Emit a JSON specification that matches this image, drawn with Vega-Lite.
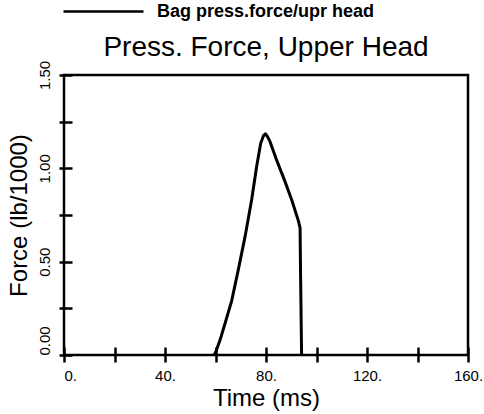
{
  "$schema": "https://vega.github.io/schema/vega-lite/v6.json",
  "width": 404,
  "height": 280,
  "autosize": "none",
  "padding": {"left": 64, "top": 75, "right": 16, "bottom": 59},
  "background": "white",
  "title": {
    "text": "Press. Force, Upper Head",
    "font": "Liberation Sans",
    "fontSize": 28,
    "fontWeight": "normal",
    "color": "black",
    "anchor": "middle",
    "frame": "group",
    "offset": -92
  },
  "config": {
    "view": {"stroke": "black", "strokeWidth": 2.5},
    "axis": {
      "grid": false,
      "domain": false,
      "tickColor": "black",
      "tickWidth": 2.5,
      "labelColor": "black",
      "labelFont": "Liberation Sans",
      "labelFontSize": 15,
      "titleColor": "black",
      "titleFont": "Liberation Sans",
      "titleFontSize": 24,
      "titleFontWeight": "normal",
      "labelOverlap": false,
      "labelBound": false
    }
  },
  "data": {
    "values": [
      {"t": 59.5, "f": 0.0, "s": "Bag press.force/upr head"},
      {"t": 60.2, "f": 0.02, "s": "Bag press.force/upr head"},
      {"t": 61.8, "f": 0.08, "s": "Bag press.force/upr head"},
      {"t": 63.8, "f": 0.17, "s": "Bag press.force/upr head"},
      {"t": 66.4, "f": 0.29, "s": "Bag press.force/upr head"},
      {"t": 69.0, "f": 0.455, "s": "Bag press.force/upr head"},
      {"t": 71.7, "f": 0.634, "s": "Bag press.force/upr head"},
      {"t": 74.3, "f": 0.83, "s": "Bag press.force/upr head"},
      {"t": 76.3, "f": 1.01, "s": "Bag press.force/upr head"},
      {"t": 77.9, "f": 1.134, "s": "Bag press.force/upr head"},
      {"t": 79.0, "f": 1.175, "s": "Bag press.force/upr head"},
      {"t": 79.8, "f": 1.185, "s": "Bag press.force/upr head"},
      {"t": 80.6, "f": 1.17, "s": "Bag press.force/upr head"},
      {"t": 81.6, "f": 1.143, "s": "Bag press.force/upr head"},
      {"t": 84.2, "f": 1.045, "s": "Bag press.force/upr head"},
      {"t": 87.5, "f": 0.93, "s": "Bag press.force/upr head"},
      {"t": 90.2, "f": 0.83, "s": "Bag press.force/upr head"},
      {"t": 92.8, "f": 0.72, "s": "Bag press.force/upr head"},
      {"t": 93.5, "f": 0.68, "s": "Bag press.force/upr head"},
      {"t": 93.7, "f": 0.42, "s": "Bag press.force/upr head"},
      {"t": 94.1, "f": 0.0, "s": "Bag press.force/upr head"}
    ]
  },
  "mark": {"type": "line", "strokeWidth": 3, "interpolate": "linear", "strokeJoin": "round", "clip": true},
  "encoding": {
    "x": {
      "field": "t",
      "type": "quantitative",
      "sort": null,
      "scale": {"domain": [0, 160], "nice": false, "zero": false},
      "axis": {
        "title": "Time (ms)",
        "values": [0, 20, 40, 60, 80, 100, 120, 140, 160],
        "labelExpr": "datum.value % 40 === 0 ? datum.value + '.' : ''",
        "labelAlign": {"condition": {"test": "datum.value === 0", "value": "left"}, "value": "center"},
        "offset": -8,
        "tickSize": 15,
        "labelPadding": 6,
        "titlePadding": 3
      }
    },
    "y": {
      "field": "f",
      "type": "quantitative",
      "scale": {"domain": [0, 1.5], "nice": false},
      "axis": {
        "title": "Force (lb/1000)",
        "values": [0, 0.25, 0.5, 0.75, 1.0, 1.25, 1.5],
        "labelExpr": "datum.value % 0.5 === 0 ? format(datum.value, '.2f') : ''",
        "labelAngle": -90,
        "labelBaseline": "alphabetic",
        "labelAlign": {"condition": {"test": "datum.value === 0", "value": "left"}, "value": "center"},
        "offset": -8,
        "tickSize": 13,
        "labelPadding": 10,
        "titlePadding": 6
      }
    },
    "color": {
      "field": "s",
      "type": "nominal",
      "scale": {"range": ["black"]},
      "legend": {
        "title": null,
        "orient": "none",
        "legendX": -2,
        "legendY": -105,
        "symbolType": "stroke",
        "symbolSize": 6400,
        "symbolStrokeWidth": 2.5,
        "symbolStrokeColor": "black",
        "labelFont": "Liberation Sans",
        "labelFontSize": 18,
        "labelFontWeight": "bold",
        "labelColor": "black",
        "labelOffset": 12,
        "labelLimit": 0,
        "padding": 0
      }
    }
  }
}
